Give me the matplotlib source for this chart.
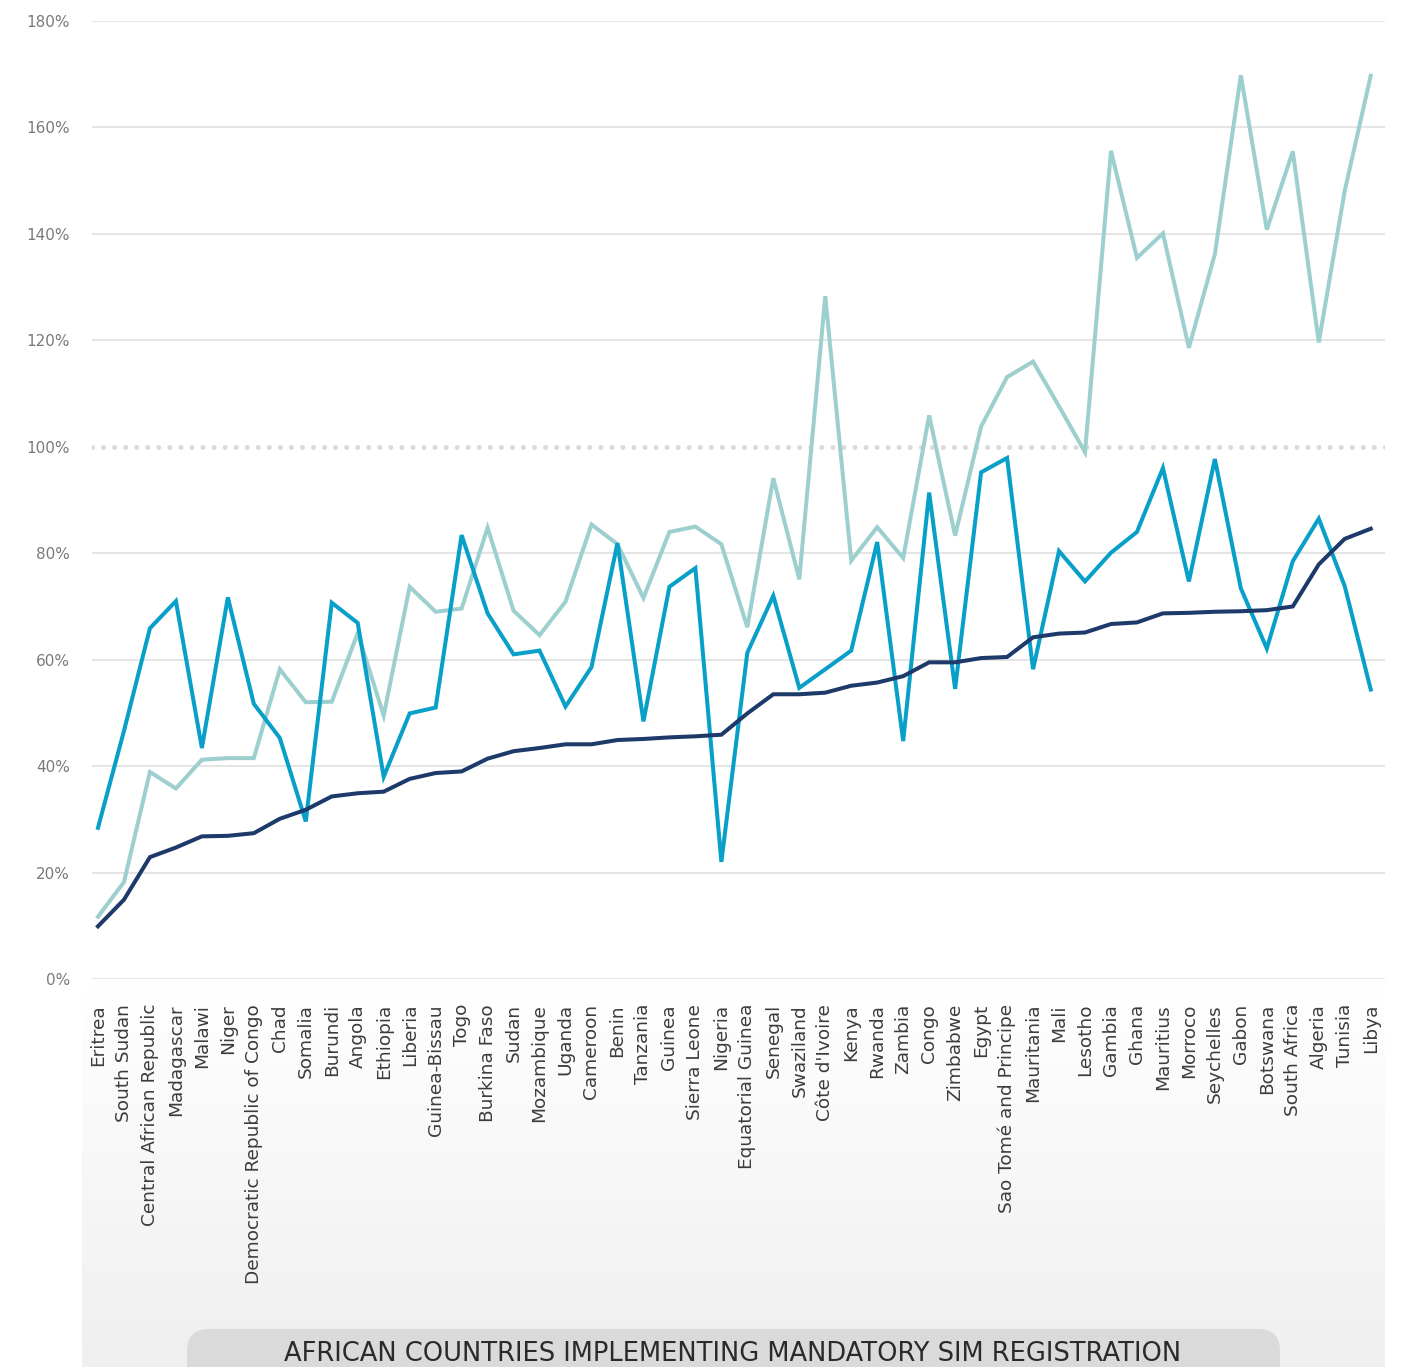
import matplotlib
matplotlib.use("Agg")
import matplotlib.pyplot as plt
import numpy as np
from matplotlib.patches import FancyBboxPatch

# ── data ─────────────────────────────────────────────────────────────
countries = [
    "Eritrea", "South Sudan", "Central African Republic", "Madagascar",
    "Malawi", "Niger", "Democratic Republic of Congo", "Chad", "Somalia",
    "Burundi", "Angola", "Ethiopia", "Liberia", "Guinea-Bissau", "Togo",
    "Burkina Faso", "Sudan", "Mozambique", "Uganda", "Cameroon", "Benin",
    "Tanzania", "Guinea", "Sierra Leone", "Nigeria", "Equatorial Guinea",
    "Senegal", "Swaziland", "Côte d'Ivoire", "Kenya", "Rwanda", "Zambia",
    "Congo", "Zimbabwe", "Egypt", "Sao Tomé and Principe", "Mauritania",
    "Mali", "Lesotho", "Gambia", "Ghana", "Mauritius", "Morroco",
    "Seychelles", "Gabon", "Botswana", "South Africa", "Algeria", "Tunisia",
    "Libya",
]

teal_vals = [
    11.7, 18.2, 38.9, 35.8, 41.2, 41.5, 41.5, 58.2, 52.0, 52.1,
    65.0, 49.5, 73.7, 69.0, 69.6, 84.8, 69.2, 64.6, 70.9, 85.4,
    81.7, 71.6, 84.0, 85.0, 81.7, 66.1, 94.1, 75.1, 128.3, 78.6,
    84.9, 79.1, 105.9, 83.3, 103.8, 113.1, 116.0, 107.6, 99.0, 155.6,
    135.5, 140.1, 118.6, 136.2, 169.8, 140.8, 155.5, 119.6, 148.1, 169.7,
]

blue_vals = [
    28.4, 46.6, 65.9, 71.0, 43.4, 71.7, 51.7, 45.3, 29.6, 70.7,
    66.9, 38.0, 49.9, 51.0, 83.4, 68.7, 61.0, 61.7, 51.2, 58.6,
    81.9, 48.4, 73.7, 77.2, 22.0, 61.3, 72.0, 54.7, 58.2, 61.7,
    82.1, 44.7, 91.4, 54.5, 95.2, 97.9, 58.2, 80.4, 74.7, 80.1,
    84.0, 96.0, 74.7, 97.7, 73.4, 62.1, 78.5, 86.5, 73.8, 54.4,
]

navy_vals = [
    9.9, 14.9, 22.9, 24.7, 26.8, 26.9, 27.4, 30.1, 31.8, 34.3,
    34.9, 35.2, 37.6, 38.7, 39.0, 41.4, 42.8, 43.4, 44.1, 44.1,
    44.9, 45.1, 45.4, 45.6, 45.9, 49.9, 53.5, 53.5, 53.8, 55.1,
    55.7, 56.9, 59.5, 59.5, 60.3, 60.5, 64.2, 64.9, 65.1, 66.7,
    67.0, 68.7, 68.8, 69.0, 69.1, 69.3, 70.0, 77.9, 82.7, 84.6,
]

y_ticks = [0, 20, 40, 60, 80, 100, 120, 140, 160, 180]
footer = "AFRICAN COUNTRIES IMPLEMENTING MANDATORY SIM REGISTRATION"

# ── style ────────────────────────────────────────────────────────────
TEAL = "#9dcfcf"
BLUE = "#089fc9"
NAVY = "#1d3a6a"
GRID = "#dedede"
DOTS = "#dadada"
TICK_Y = "#7a7a7a"
TICK_X = "#3c3c3c"

W, H, DPI = 1402, 1367, 100
fig = plt.figure(figsize=(W / DPI, H / DPI), dpi=DPI)
fig.patch.set_facecolor("white")

# pixel-space overlay for the grey panel and footer box
bg = fig.add_axes([0, 0, 1, 1], zorder=0)
bg.set_xlim(0, W)
bg.set_ylim(H, 0)
bg.axis("off")
shade = np.linspace(1.0, 0.937, 256)
grad = np.dstack([shade, shade, shade]).reshape(256, 1, 3)
bg.imshow(grad, extent=(82, 1385, H, 988), aspect="auto",
          interpolation="bilinear", zorder=0)
box = FancyBboxPatch((205, 1347), 1057, 60,
                     boxstyle="round,pad=18,rounding_size=22",
                     facecolor="#dadada", edgecolor="none", zorder=1)
bg.add_patch(box)
bg.text(733, 1354, footer, ha="center", va="center", fontsize=18.5,
        color="#2a2a2a", zorder=2)

# ── main chart ───────────────────────────────────────────────────────
left, right, top, bottom = 92, 1385, 21, 979
ax = fig.add_axes([left / W, 1 - bottom / H, (right - left) / W,
                   (bottom - top) / H], zorder=2)
ax.patch.set_alpha(0)

x = np.arange(len(countries))
ax.plot(x, teal_vals, color=TEAL, lw=2.9, solid_joinstyle="miter", zorder=3)
ax.plot(x, blue_vals, color=BLUE, lw=2.9, solid_joinstyle="miter", zorder=4)
ax.plot(x, navy_vals, color=NAVY, lw=2.9, solid_joinstyle="miter", zorder=5)

ax.set_ylim(0, 180)
ax.set_xlim(-0.23, 49.55)
ax.set_yticks(y_ticks)
ax.set_yticklabels([f"{v}%" for v in y_ticks])
for v in y_ticks:
    if v == 100:
        continue
    ax.axhline(v, color=GRID, lw=1.1, zorder=1)
ax.axhline(100, color=DOTS, lw=3.6, linestyle=(0, (0.01, 2.2)),
           dash_capstyle="round", zorder=1)

ax.set_xticks(x)
ax.set_xticklabels(countries, rotation=90, ha="center", va="top")
ax.tick_params(axis="x", length=0, pad=18, labelsize=13.3, labelcolor=TICK_X)
ax.tick_params(axis="y", length=0, pad=16, labelsize=11, labelcolor=TICK_Y)
for sp in ax.spines.values():
    sp.set_visible(False)

fig.savefig("out.png", dpi=DPI, facecolor="white")
